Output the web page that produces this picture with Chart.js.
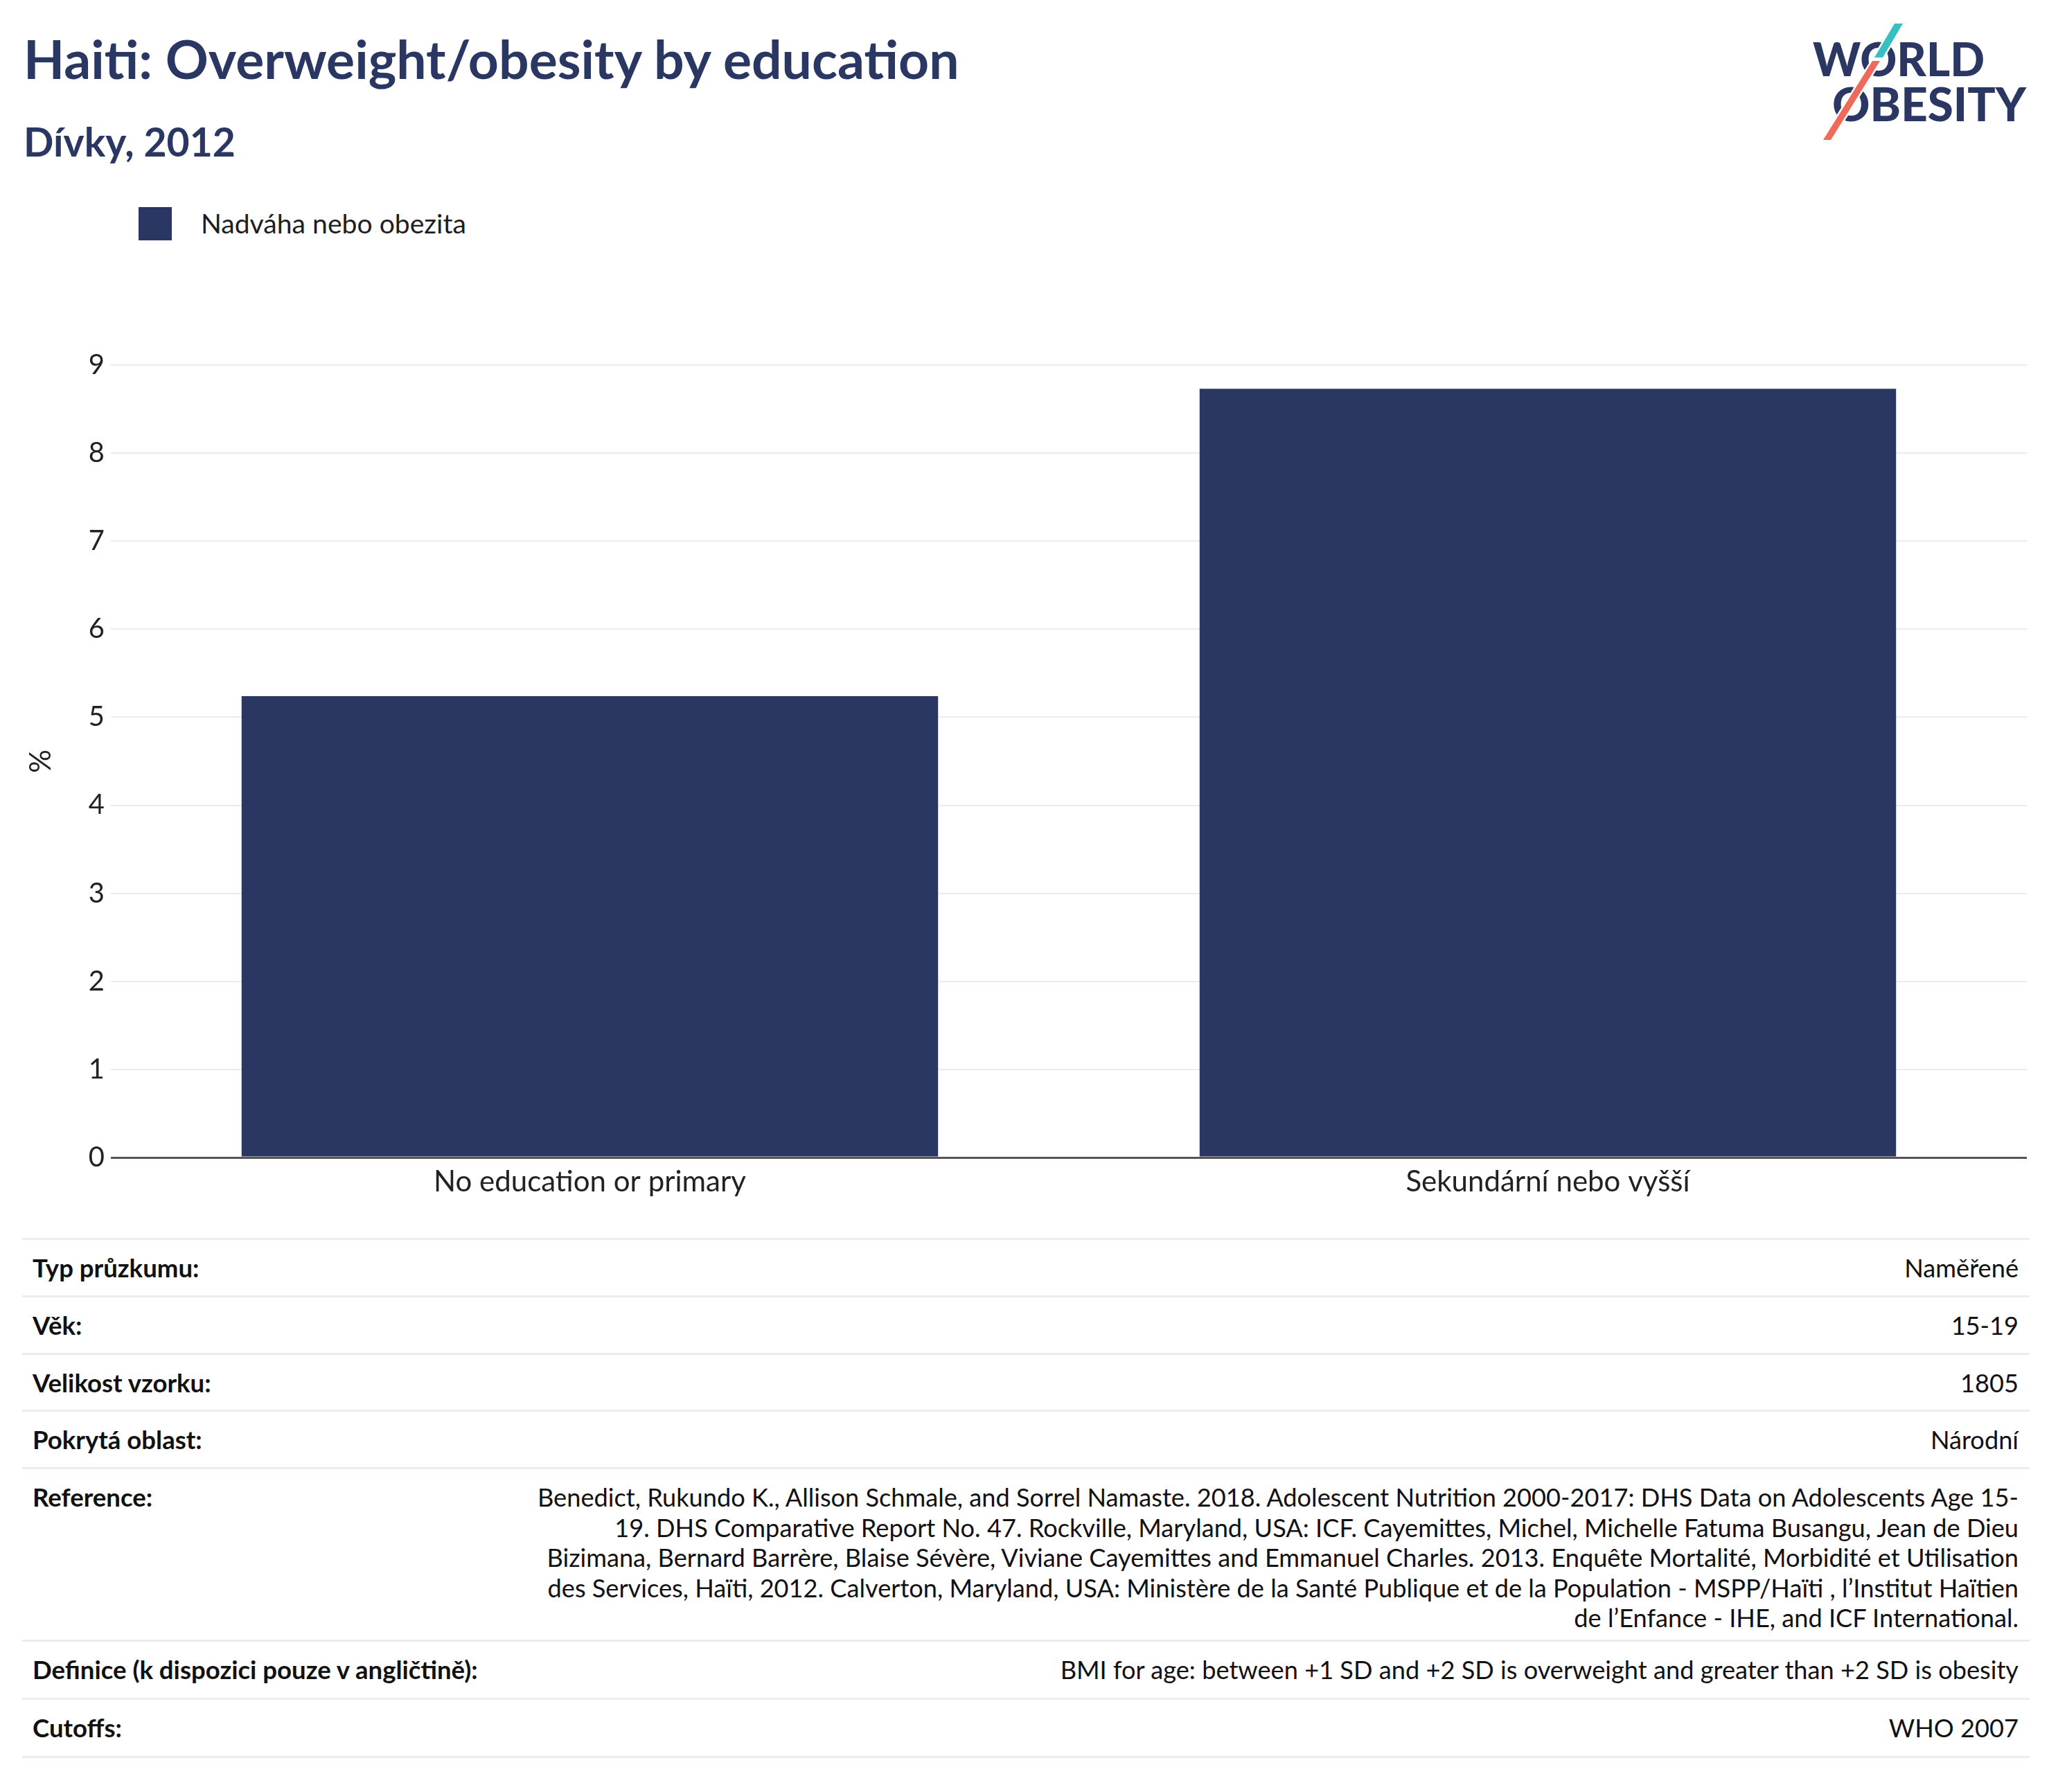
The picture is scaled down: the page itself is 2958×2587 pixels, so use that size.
<!DOCTYPE html>
<html><head><meta charset="utf-8">
<script src="https://cdn.jsdelivr.net/npm/chart.js@4.4.0/dist/chart.umd.min.js"></script>
<style>
html,body{margin:0;padding:0;background:#fff;}
body{width:2958px;height:2587px;position:relative;overflow:hidden;font-family:Lato,"Noto Sans",sans-serif;}
.t{position:absolute;white-space:nowrap;line-height:1;}
#title{font-weight:700;font-size:76px;color:#2b3763;}
#subtitle{font-weight:700;font-size:56px;color:#2b3763;}
#legendText{font-size:36px;color:#1e1e1e;}
#legendBox{position:absolute;left:200px;top:299px;width:48px;height:48px;}
.lab{font-weight:700;font-size:31px;color:#111;}
.val{font-size:31px;color:#111;}
.sep{position:absolute;left:32px;width:2898px;height:3px;background:#eaeef4;}
#chartWrap{position:absolute;left:0;top:480px;width:2958px;height:1290px;}
#logo{position:absolute;left:0;top:0;}
</style>
</head><body>
<svg id="logo" width="2958" height="230" viewBox="0 0 2958 230">
  <text id="lw" x="2617" y="110" font-family="Lato, sans-serif" font-weight="900" font-size="66" fill="#2b3763" textLength="248" lengthAdjust="spacingAndGlyphs">WORLD</text>
  <text id="lo" x="2645" y="175" font-family="Lato, sans-serif" font-weight="900" font-size="66" fill="#2b3763" textLength="280" lengthAdjust="spacingAndGlyphs">OBESITY</text>
  <polygon points="2735,34 2747,34 2718,83 2706,83" fill="#38bfc1" stroke="#fff" stroke-width="5" paint-order="stroke"/>
  <polygon points="2703,88 2714,88 2643,202 2632,202" fill="#ee6b5b" stroke="#fff" stroke-width="5" paint-order="stroke"/>
</svg>
<div id="title" class="t">Haiti: Overweight/obesity by education</div>
<div id="subtitle" class="t">Dívky, 2012</div>
<div id="legendBox"></div>
<div id="legendText" class="t"></div>
<div id="chartWrap"><canvas id="c" width="2958" height="1290"></canvas></div>
<div id="table"></div>
<script>
// ---- data ----
const categories = ["No education or primary", "Sekundární nebo vyšší"];
const seriesLabel = "Nadváha nebo obezita";
const seriesValues = [5.24, 8.73];
const yTickValues = [0, 1, 2, 3, 4, 5, 6, 7, 8, 9];
const axisTitle = "%";
const tableLabels = ["Typ průzkumu:", "Věk:", "Velikost vzorku:", "Pokrytá oblast:", "Reference:", "Definice (k dispozici pouze v angličtině):", "Cutoffs:"];
const tableValues = [
  ["Naměřené"],
  ["15-19"],
  ["1805"],
  ["Národní"],
  ["Benedict, Rukundo K., Allison Schmale, and Sorrel Namaste. 2018. Adolescent Nutrition 2000-2017: DHS Data on Adolescents Age 15-",
   "19. DHS Comparative Report No. 47. Rockville, Maryland, USA: ICF. Cayemittes, Michel, Michelle Fatuma Busangu, Jean de Dieu",
   "Bizimana, Bernard Barrère, Blaise Sévère, Viviane Cayemittes and Emmanuel Charles. 2013. Enquête Mortalité, Morbidité et Utilisation",
   "des Services, Haïti, 2012. Calverton, Maryland, USA: Ministère de la Santé Publique et de la Population - MSPP/Haïti , l’Institut Haïtien",
   "de l’Enfance - IHE, and ICF International."],
  ["BMI for age: between +1 SD and +2 SD is overweight and greater than +2 SD is obesity"],
  ["WHO 2007"]
];
// ---- styles ----
const NAVY = "#2b3763";
const FONT = "Lato, 'Noto Sans', sans-serif";

function fit(el, target){
  const w = el.getBoundingClientRect().width;
  const fs = parseFloat(getComputedStyle(el).fontSize);
  return fs * target / w;
}
function place(el, x, baseline, align){
  const probe = document.createElement('span');
  probe.style.cssText = 'display:inline-block;width:0;height:0;vertical-align:baseline';
  el.appendChild(probe);
  const b = probe.offsetTop;
  el.style.top = (baseline - b) + 'px';
  el.style.left = (align === 'right' ? x - el.getBoundingClientRect().width : x) + 'px';
}

// header
const title = document.getElementById('title');
title.style.fontSize = fit(title, 1351) + 'px';
place(title, 34, 114);
const sub = document.getElementById('subtitle');
sub.style.fontSize = fit(sub, 306) + 'px';
place(sub, 34, 226);

// legend from dataset
const lt = document.getElementById('legendText');
lt.textContent = seriesLabel;
lt.style.fontSize = fit(lt, 383) + 'px';
place(lt, 290, 337);
document.getElementById('legendBox').style.background = NAVY;

// table
const table = document.getElementById('table');
const sepY = [1788, 1871, 1954, 2036, 2119, 2368, 2452, 2536];
sepY.forEach(y => { const d = document.createElement('div'); d.className = 'sep'; d.style.top = (y - 1) + 'px'; table.appendChild(d); });
const probeL = document.createElement('div'); probeL.className = 't lab'; probeL.textContent = tableLabels[5]; table.appendChild(probeL);
const labFs = fit(probeL, 643); table.removeChild(probeL);
const probeV = document.createElement('div'); probeV.className = 't val'; probeV.textContent = tableValues[4][0]; table.appendChild(probeV);
const valFs = fit(probeV, 2139); table.removeChild(probeV);
const LH = 43.5;
tableLabels.forEach((lab, i) => {
  const base = sepY[i] + 56;
  const l = document.createElement('div'); l.className = 't lab'; l.textContent = lab; l.style.fontSize = labFs + 'px';
  table.appendChild(l); place(l, 47, base);
  tableValues[i].forEach((line, k) => {
    const v = document.createElement('div'); v.className = 't val'; v.textContent = line; v.style.fontSize = valFs + 'px';
    table.appendChild(v); place(v, 2914, base + k * LH, 'right');
  });
});

// chart
const mctx = document.createElement('canvas').getContext('2d');
mctx.font = "40px " + FONT;
const xFs = 40 * 451 / mctx.measureText(categories[0]).width;

Chart.defaults.font.family = FONT;
Chart.defaults.color = '#222';
new Chart(document.getElementById('c'), {
  type: 'bar',
  data: {
    labels: categories,
    datasets: [{ label: seriesLabel, data: seriesValues, backgroundColor: NAVY, borderWidth: 0,
                 barPercentage: 0.727, categoryPercentage: 1.0 }]
  },
  options: {
    responsive: false, animation: false, devicePixelRatio: 1,
    layout: { padding: { top: 47, right: 32, left: 0, bottom: 0 } },
    plugins: { legend: { display: false }, tooltip: { enabled: false } },
    scales: {
      x: {
        grid: { display: false, drawTicks: false },
        border: { display: false },
        ticks: { font: { size: xFs }, padding: 10, color: '#222' },
        afterFit(s) { s.height = 99; }
      },
      y: {
        min: 0, max: 9,
        afterBuildTicks(s) { s.ticks = yTickValues.map(v => ({ value: v })); },
        ticks: { font: { size: xFs * 0.95 }, padding: 9, color: '#222' },
        grid: { drawTicks: false,
                color: c => (c.tick && c.tick.value === 0) ? '#555' : '#ebebeb',
                lineWidth: c => (c.tick && c.tick.value === 0) ? 3 : 2 },
        border: { display: false },
        title: { display: true, text: axisTitle, font: { size: xFs }, color: '#222', padding: { top: 34, bottom: 0 } },
        afterFit(s) { s.width = 160; }
      }
    }
  }
});
</script>
</body></html>
